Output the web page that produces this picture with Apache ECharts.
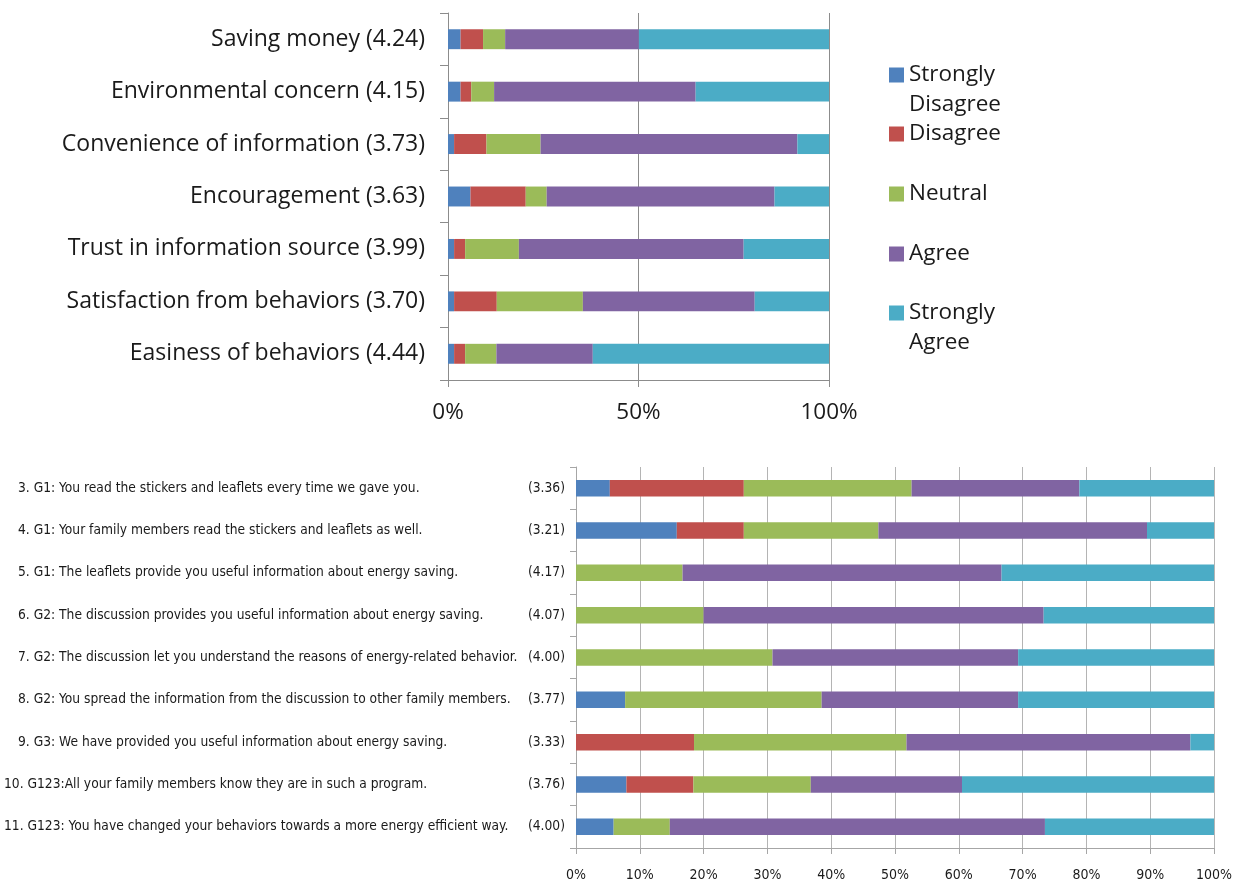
<!DOCTYPE html>
<html><head><meta charset="utf-8">
<script src="https://cdn.jsdelivr.net/npm/echarts@6.0.0/dist/echarts.min.js"></script>
<style>html,body{margin:0;padding:0;background:#fff}#c{width:1248px;height:882px}</style>
</head><body><div id="c"></div>
<script>
// ---------- data ----------
const seriesNames = ['Strongly Disagree', 'Disagree', 'Neutral', 'Agree', 'Strongly Agree'];
const colors = ['#4F81BD', '#C0504D', '#9BBB59', '#8064A2', '#4BACC6'];

const topCategories = [
  'Saving money (4.24)',
  'Environmental concern (4.15)',
  'Convenience of information (3.73)',
  'Encouragement (3.63)',
  'Trust in information source (3.99)',
  'Satisfaction from behaviors (3.70)',
  'Easiness of behaviors (4.44)'
];
const topStronglyDisagree = [3.3, 3.3, 1.6, 5.9, 1.6, 1.6, 1.6];
const topDisagree         = [5.9, 2.8, 8.5, 14.5, 2.9, 11.2, 2.9];
const topNeutral          = [5.8, 6.0, 14.2, 5.5, 14.1, 22.6, 8.2];
const topAgree            = [35.1, 52.9, 67.4, 59.8, 59.0, 45.1, 25.3];
const topStronglyAgree    = [49.9, 35.0, 8.3, 14.3, 22.4, 19.5, 62.0];
const topTickLabels = ['0%', '50%', '100%'];

const bottomCategories = [
  '3. G1: You read the stickers and leaflets every time we gave you.',
  '4. G1: Your family members read the stickers and leaflets as well.',
  '5. G1: The leaflets provide you useful information about energy saving.',
  '6. G2: The discussion provides you useful information about energy saving.',
  '7. G2: The discussion let you understand the reasons of energy-related behavior.',
  '8. G2: You spread the information from the discussion to other family members.',
  '9. G3: We have provided you useful information about energy saving.',
  '10. G123:All your family members know they are in such a program.',
  '11. G123: You have changed your behaviors towards a more energy efficient way.'
];
const bottomScores = ['(3.36)', '(3.21)', '(4.17)', '(4.07)', '(4.00)', '(3.77)', '(3.33)', '(3.76)', '(4.00)'];
const bottomStronglyDisagree = [5.3, 15.8, 0, 0, 0, 7.7, 0, 7.9, 5.9];
const bottomDisagree         = [21.0, 10.5, 0, 0, 0, 0, 18.5, 10.5, 0];
const bottomNeutral          = [26.3, 21.1, 16.7, 20.0, 30.8, 30.8, 33.3, 18.4, 8.8];
const bottomAgree            = [26.3, 42.1, 50.0, 53.3, 38.5, 30.8, 44.5, 23.7, 58.8];
const bottomStronglyAgree    = [21.1, 10.5, 33.3, 26.7, 30.7, 30.7, 3.7, 39.5, 26.5];
const bottomTickLabels = ['0%', '10%', '20%', '30%', '40%', '50%', '60%', '70%', '80%', '90%', '100%'];

// ---------- chart ----------
const topData = [topStronglyDisagree, topDisagree, topNeutral, topAgree, topStronglyAgree];
const bottomData = [bottomStronglyDisagree, bottomDisagree, bottomNeutral, bottomAgree, bottomStronglyAgree];
const textColor = '#1a1a1a';
const bigFont = "'Open Sans', 'Liberation Sans', Arial, sans-serif";
const narrowFont = "'Liberation Sans Narrow', 'Arial Narrow', 'DejaVu Sans Condensed', sans-serif";

const series = [];
seriesNames.forEach((n, i) => {
  series.push({
    name: n, type: 'bar', stack: 'top', xAxisIndex: 0, yAxisIndex: 0,
    barWidth: '38%', itemStyle: { color: colors[i] }, data: topData[i], silent: true
  });
});
seriesNames.forEach((n, i) => {
  series.push({
    name: n, type: 'bar', stack: 'bottom', xAxisIndex: 1, yAxisIndex: 1,
    barWidth: '39%', itemStyle: { color: colors[i] }, data: bottomData[i], silent: true
  });
});

const legendCenters = [75, 134, 194, 254, 313];
// a leading blank line keeps the first text line level with the square
const legendLabels = ['\nStrongly\nDisagree', 'Disagree', 'Neutral', 'Agree', '\nStrongly\nAgree'];
const legends = seriesNames.map((n, i) => {
  const two = legendLabels[i].indexOf('\n') >= 0;
  return {
    data: [n], left: 889, top: legendCenters[i] - (two ? 45 : 15), orient: 'vertical',
    padding: 0, icon: 'rect', itemWidth: 15, itemHeight: 15,
    selectedMode: false,
    formatter: () => legendLabels[i],
    textStyle: { fontFamily: bigFont, fontSize: 22.5, color: textColor, lineHeight: 30 }
  };
});

const option = {
  animation: false,
  backgroundColor: '#fff',
  legend: legends,
  grid: [
    { left: 448, top: 13, width: 381, height: 367, outerBoundsMode: 'none' },
    { left: 576, top: 467, width: 638, height: 381, outerBoundsMode: 'none' }
  ],
  xAxis: [
    {
      gridIndex: 0, type: 'value', min: 0, max: 100, interval: 50,
      axisLine: { show: true, lineStyle: { color: '#8c8c8c', width: 1 } },
      axisTick: { show: true, length: 7, lineStyle: { color: '#8c8c8c' } },
      splitLine: { show: true, lineStyle: { color: '#8c8c8c', width: 1 } },
      axisLabel: {
        margin: 21, fontFamily: bigFont, fontSize: 22.5, color: textColor,
        formatter: v => topTickLabels[Math.round(v / 50)]
      }
    },
    {
      gridIndex: 1, type: 'value', min: 0, max: 100, interval: 10,
      axisLine: { show: true, lineStyle: { color: '#a6a6a6', width: 1 } },
      axisTick: { show: true, length: 6, lineStyle: { color: '#a6a6a6' } },
      splitLine: { show: true, lineStyle: { color: '#b4b4b4', width: 1 } },
      axisLabel: {
        margin: 20, fontFamily: narrowFont, fontSize: 14, color: textColor,
        formatter: v => bottomTickLabels[Math.round(v / 10)]
      }
    }
  ],
  yAxis: [
    {
      gridIndex: 0, type: 'category', inverse: true, data: topCategories,
      axisLine: { show: true, lineStyle: { color: '#8c8c8c', width: 1 } },
      axisTick: { show: true, length: 8, lineStyle: { color: '#8c8c8c' } },
      axisLabel: { margin: 23, fontFamily: bigFont, fontSize: 23, color: textColor }
    },
    {
      gridIndex: 1, type: 'category', inverse: true, data: bottomCategories,
      axisLine: { show: true, lineStyle: { color: '#a6a6a6', width: 1 } },
      axisTick: { show: true, length: 6, lineStyle: { color: '#a6a6a6' } },
      axisLabel: {
        margin: 11, align: 'right', fontFamily: narrowFont, fontSize: 13.7, color: textColor,
        formatter: (v, idx) => {
          const wide = /^\d\d\./.test(v);
          return '{' + (wide ? 'qw' : 'q') + '|' + v + '}{s|' + bottomScores[idx] + '}';
        },
        rich: {
          q: { width: 507, align: 'left', fontFamily: narrowFont, fontSize: 13.7, color: textColor },
          qw: { width: 521, align: 'left', fontFamily: narrowFont, fontSize: 13.7, color: textColor },
          s: { width: 40, align: 'right', fontFamily: narrowFont, fontSize: 13.7, color: textColor }
        }
      }
    }
  ],
  series: series
};

const chart = echarts.init(document.getElementById('c'), null, { renderer: 'canvas' });
chart.setOption(option);
</script>
</body></html>
